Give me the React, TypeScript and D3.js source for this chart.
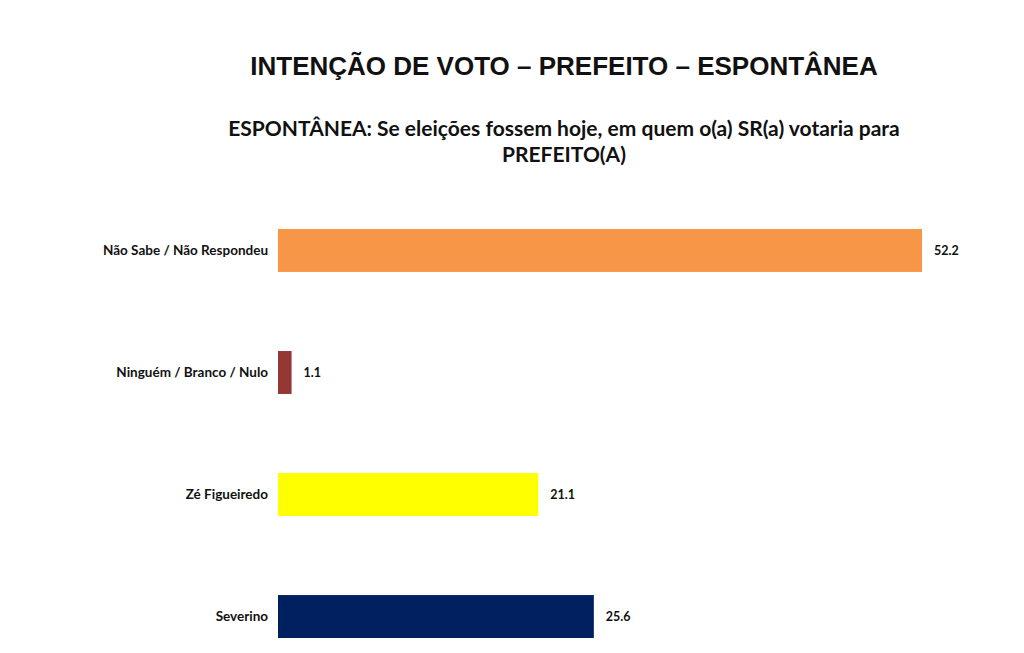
import React, { useEffect, useRef } from 'react';
import * as d3 from 'd3';

const categories = ['Não Sabe / Não Respondeu', 'Ninguém / Branco / Nulo', 'Zé Figueiredo', 'Severino'];
const values = [52.2, 1.1, 21.1, 25.6];
const barColors = ['#F79646', '#953735', '#FFFF00', '#002060'];

const title = 'INTENÇÃO DE VOTO – PREFEITO – ESPONTÂNEA';
const subtitleLines = ['ESPONTÂNEA: Se eleições fossem hoje, em quem o(a) SR(a) votaria para', 'PREFEITO(A)'];

const W = 1024;
const H = 653;

export default function App() {
  const svgRef = useRef<SVGSVGElement>(null);

  useEffect(() => {
    if (!svgRef.current) return;
    const svg = d3.select(svgRef.current);
    svg.selectAll('*').remove();

    const x = d3.scaleLinear()
      .domain([0, d3.max(values) as number])
      .range([278, 922]);

    const y = d3.scaleBand<string>()
      .domain(categories)
      .range([229, 638])
      .paddingInner(0.648)
      .paddingOuter(0);

    // Titles
    svg.append('text')
      .attr('x', 564)
      .attr('y', 75)
      .attr('text-anchor', 'middle')
      .attr('font-family', 'Liberation Sans, Arial, sans-serif')
      .attr('font-weight', 'bold')
      .attr('font-size', 26)
      .attr('fill', '#111')
      .text(title);

    svg.selectAll('.sub')
      .data(subtitleLines)
      .enter()
      .append('text')
      .attr('class', 'sub')
      .attr('x', 564)
      .attr('y', (d, i) => 136 + i * 26)
      .attr('text-anchor', 'middle')
      .attr('font-family', 'Lato, sans-serif')
      .attr('font-weight', 'bold')
      .attr('font-size', 21)
      .attr('fill', '#111')
      .text(d => d);

    const rows = categories.map((c, i) => ({ c, v: values[i], color: barColors[i] }));

    // Bars
    svg.selectAll('.bar')
      .data(rows)
      .enter()
      .append('rect')
      .attr('class', 'bar')
      .attr('x', x(0))
      .attr('y', d => y(d.c) as number)
      .attr('width', d => x(d.v) - x(0))
      .attr('height', y.bandwidth())
      .attr('fill', d => d.color);

    // Category labels
    svg.selectAll('.cat')
      .data(rows)
      .enter()
      .append('text')
      .attr('class', 'cat')
      .attr('x', x(0) - 10)
      .attr('y', d => (y(d.c) as number) + y.bandwidth() / 2 + 4.5)
      .attr('text-anchor', 'end')
      .attr('font-family', 'Lato, sans-serif')
      .attr('font-weight', 'bold')
      .attr('font-size', 13.5)
      .attr('fill', '#111')
      .text(d => d.c);

    // Value labels
    svg.selectAll('.val')
      .data(rows)
      .enter()
      .append('text')
      .attr('class', 'val')
      .attr('x', d => x(d.v) + 12)
      .attr('y', d => (y(d.c) as number) + y.bandwidth() / 2 + 4.5)
      .attr('font-family', 'Lato, sans-serif')
      .attr('font-weight', 'bold')
      .attr('font-size', 12.5)
      .attr('fill', '#111')
      .text(d => d.v.toFixed(1));
  }, []);

  return (
    <svg
      ref={svgRef}
      width={W}
      height={H}
      style={{ position: 'absolute', left: 0, top: 0, background: '#fff' }}
    />
  );
}
